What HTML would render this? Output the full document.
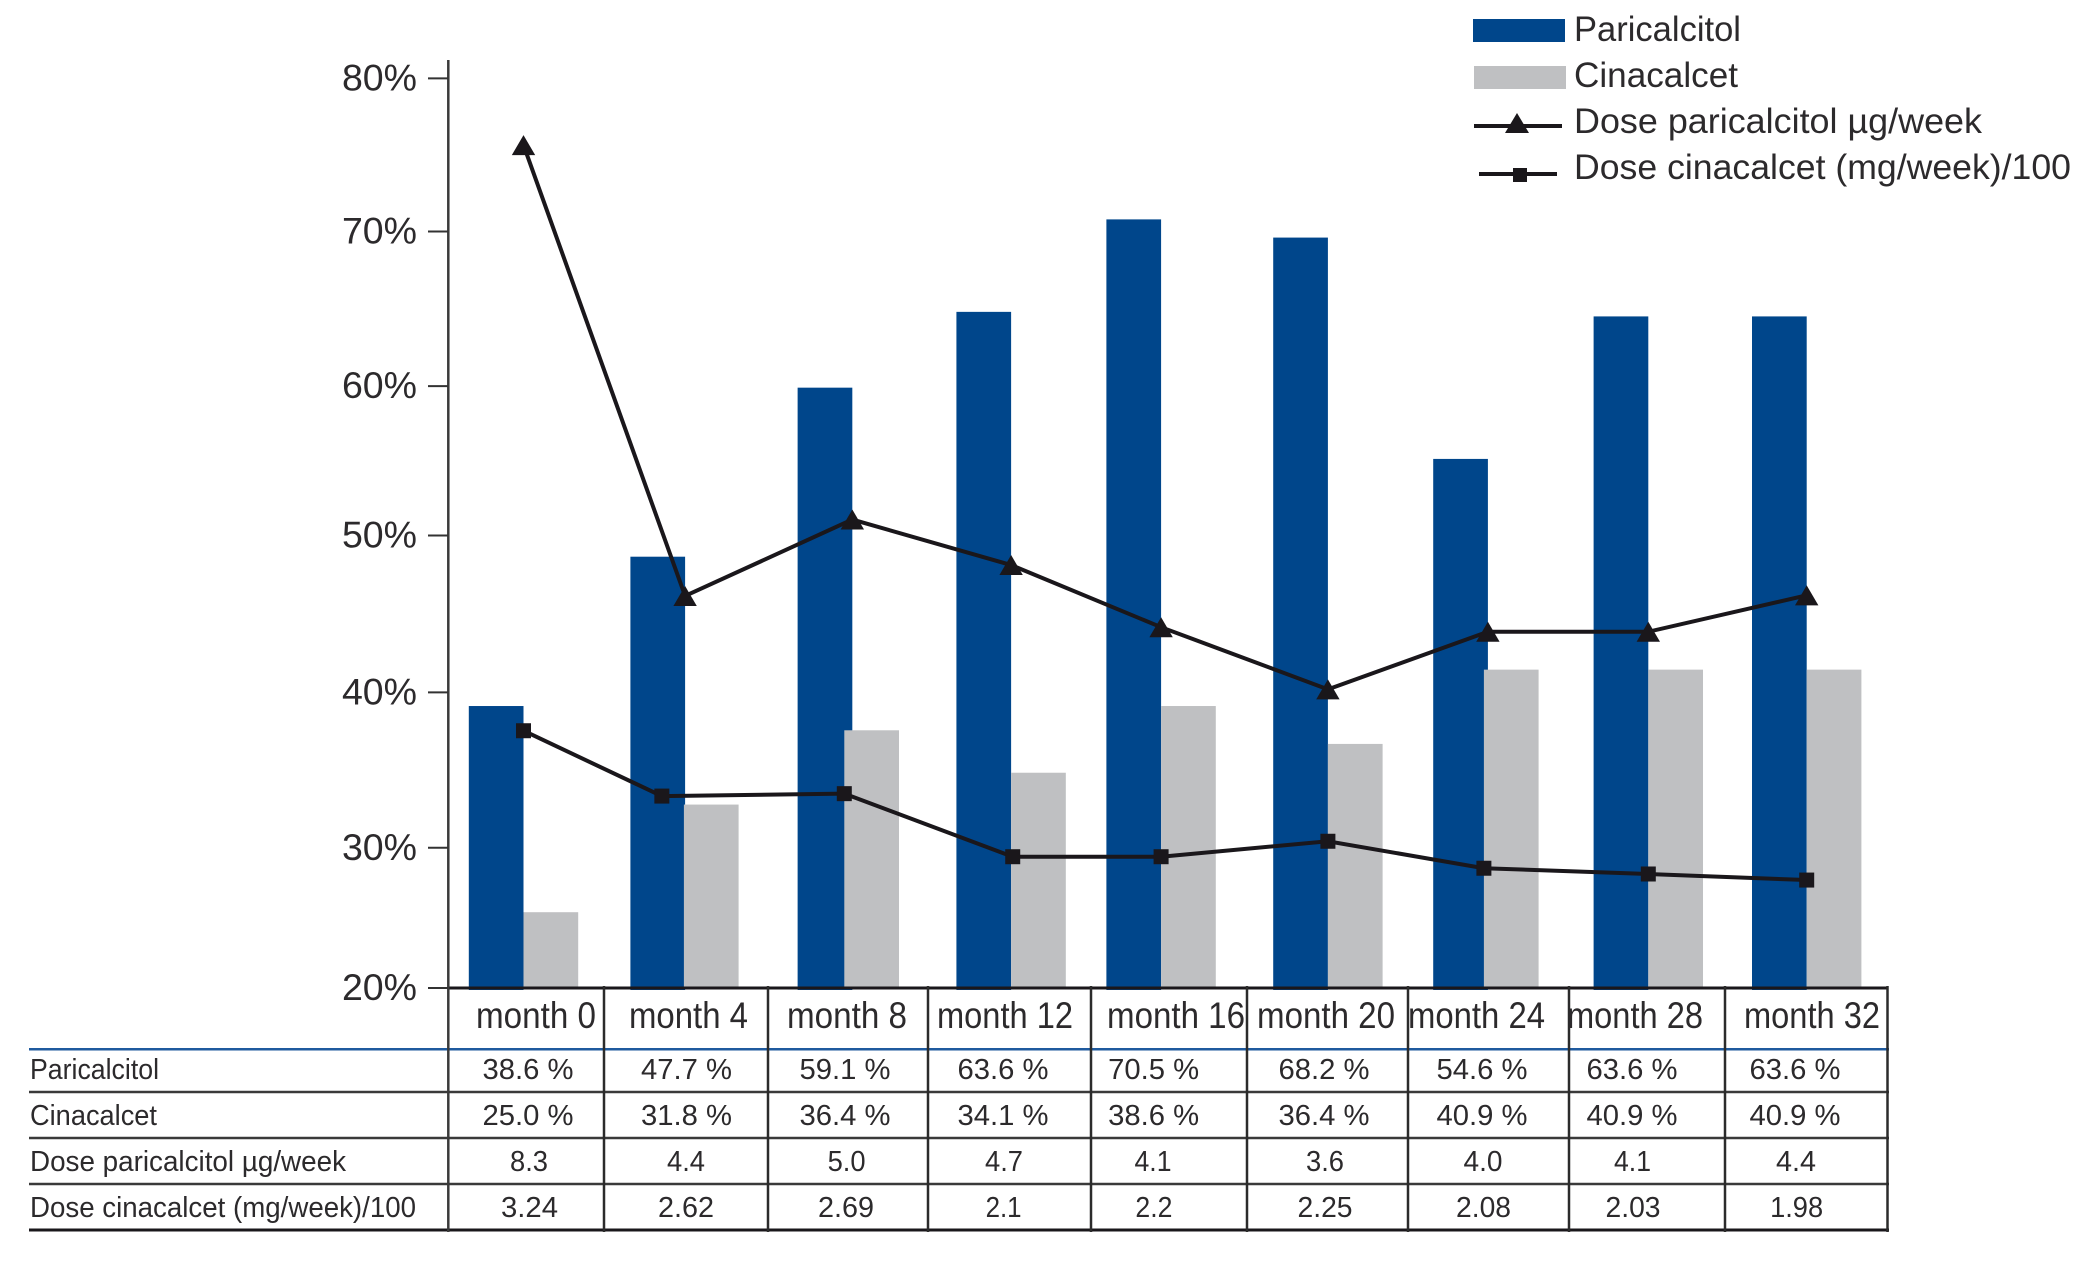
<!DOCTYPE html>
<html lang="en">
<head>
<meta charset="utf-8">
<title>Paricalcitol and cinacalcet use over 32 months</title>
<style>
html,body{margin:0;padding:0;background:#fff;}
svg{display:block;}
text{font-family:"Liberation Sans",sans-serif;fill:#2c2a2c;}
.legend{font-size:35.5px;}
.month{font-size:37px;}
.cell{font-size:29px;text-anchor:middle;}
.rowlabel{font-size:29px;}
.ytick{font-size:37.5px;text-anchor:end;}
.hline{stroke:#3a3a3a;stroke-width:2.5;}
.vline{stroke:#2b2b2b;stroke-width:2.5;}
</style>
</head>
<body>
<svg id="chart" xmlns="http://www.w3.org/2000/svg" width="2098" height="1263" viewBox="0 0 2098 1263">
  <rect x="0" y="0" width="2098" height="1263" fill="#ffffff"/>

  <g id="bars"></g>

  <g>
    <line x1="29" y1="1049.3" x2="1889" y2="1049.3" stroke="#1f5a9e" stroke-width="2.5"/>
    <line class="hline" x1="29" y1="1092" x2="1889" y2="1092"/>
    <line class="hline" x1="29" y1="1138" x2="1889" y2="1138"/>
    <line class="hline" x1="29" y1="1184" x2="1889" y2="1184"/>
    <line x1="29" y1="1230" x2="1889" y2="1230" stroke="#1a171b" stroke-width="3"/>
    <line x1="448" y1="988" x2="1888" y2="988" stroke="#1a171b" stroke-width="3"/>
    <line class="vline" x1="604" y1="986" x2="604" y2="1232"/>
    <line class="vline" x1="768" y1="986" x2="768" y2="1232"/>
    <line class="vline" x1="928" y1="986" x2="928" y2="1232"/>
    <line class="vline" x1="1091" y1="986" x2="1091" y2="1232"/>
    <line class="vline" x1="1247" y1="986" x2="1247" y2="1232"/>
    <line class="vline" x1="1408" y1="986" x2="1408" y2="1232"/>
    <line class="vline" x1="1569" y1="986" x2="1569" y2="1232"/>
    <line class="vline" x1="1725" y1="986" x2="1725" y2="1232"/>
    <line class="vline" x1="1887.5" y1="986" x2="1887.5" y2="1232"/>
    <line x1="448.3" y1="60" x2="448.3" y2="1232" stroke="#3a3a3a" stroke-width="2.5"/>
  </g>

  <g id="y-axis"></g>
  <g id="lines"></g>

  <g>
    <text class="month" x="476" y="1028" textLength="120" lengthAdjust="spacingAndGlyphs">month 0</text>
    <text class="month" x="629" y="1028" textLength="119" lengthAdjust="spacingAndGlyphs">month 4</text>
    <text class="month" x="787" y="1028" textLength="120" lengthAdjust="spacingAndGlyphs">month 8</text>
    <text class="month" x="937" y="1028" textLength="136" lengthAdjust="spacingAndGlyphs">month 12</text>
    <text class="month" x="1107" y="1028" textLength="138" lengthAdjust="spacingAndGlyphs">month 16</text>
    <text class="month" x="1257" y="1028" textLength="138" lengthAdjust="spacingAndGlyphs">month 20</text>
    <text class="month" x="1408" y="1028" textLength="137" lengthAdjust="spacingAndGlyphs">month 24</text>
    <text class="month" x="1567" y="1028" textLength="136" lengthAdjust="spacingAndGlyphs">month 28</text>
    <text class="month" x="1744" y="1028" textLength="136" lengthAdjust="spacingAndGlyphs">month 32</text>
  </g>

  <g>
    <text class="rowlabel" x="30" y="1079" textLength="129" lengthAdjust="spacingAndGlyphs">Paricalcitol</text>
    <text class="rowlabel" x="30" y="1125" textLength="127" lengthAdjust="spacingAndGlyphs">Cinacalcet</text>
    <text class="rowlabel" x="30" y="1171" textLength="316" lengthAdjust="spacingAndGlyphs">Dose paricalcitol µg/week</text>
    <text class="rowlabel" x="30" y="1217" textLength="386" lengthAdjust="spacingAndGlyphs">Dose cinacalcet (mg/week)/100</text>
  </g>

  <g>
    <text class="cell" x="528" y="1079" textLength="91" lengthAdjust="spacingAndGlyphs">38.6 %</text>
    <text class="cell" x="686.5" y="1079" textLength="91" lengthAdjust="spacingAndGlyphs">47.7 %</text>
    <text class="cell" x="845" y="1079" textLength="91" lengthAdjust="spacingAndGlyphs">59.1 %</text>
    <text class="cell" x="1003" y="1079" textLength="91" lengthAdjust="spacingAndGlyphs">63.6 %</text>
    <text class="cell" x="1153.6" y="1079" textLength="91" lengthAdjust="spacingAndGlyphs">70.5 %</text>
    <text class="cell" x="1324" y="1079" textLength="91" lengthAdjust="spacingAndGlyphs">68.2 %</text>
    <text class="cell" x="1482" y="1079" textLength="91" lengthAdjust="spacingAndGlyphs">54.6 %</text>
    <text class="cell" x="1632" y="1079" textLength="91" lengthAdjust="spacingAndGlyphs">63.6 %</text>
    <text class="cell" x="1795" y="1079" textLength="91" lengthAdjust="spacingAndGlyphs">63.6 %</text>
  </g>
  <g>
    <text class="cell" x="528" y="1125" textLength="91" lengthAdjust="spacingAndGlyphs">25.0 %</text>
    <text class="cell" x="686.5" y="1125" textLength="91" lengthAdjust="spacingAndGlyphs">31.8 %</text>
    <text class="cell" x="845" y="1125" textLength="91" lengthAdjust="spacingAndGlyphs">36.4 %</text>
    <text class="cell" x="1003" y="1125" textLength="91" lengthAdjust="spacingAndGlyphs">34.1 %</text>
    <text class="cell" x="1153.6" y="1125" textLength="91" lengthAdjust="spacingAndGlyphs">38.6 %</text>
    <text class="cell" x="1324" y="1125" textLength="91" lengthAdjust="spacingAndGlyphs">36.4 %</text>
    <text class="cell" x="1482" y="1125" textLength="91" lengthAdjust="spacingAndGlyphs">40.9 %</text>
    <text class="cell" x="1632" y="1125" textLength="91" lengthAdjust="spacingAndGlyphs">40.9 %</text>
    <text class="cell" x="1795" y="1125" textLength="91" lengthAdjust="spacingAndGlyphs">40.9 %</text>
  </g>
  <g>
    <text class="cell" x="529" y="1171" textLength="38" lengthAdjust="spacingAndGlyphs">8.3</text>
    <text class="cell" x="686" y="1171" textLength="38" lengthAdjust="spacingAndGlyphs">4.4</text>
    <text class="cell" x="846.6" y="1171" textLength="38" lengthAdjust="spacingAndGlyphs">5.0</text>
    <text class="cell" x="1004" y="1171" textLength="38" lengthAdjust="spacingAndGlyphs">4.7</text>
    <text class="cell" x="1153" y="1171" textLength="37" lengthAdjust="spacingAndGlyphs">4.1</text>
    <text class="cell" x="1325" y="1171" textLength="38" lengthAdjust="spacingAndGlyphs">3.6</text>
    <text class="cell" x="1483" y="1171" textLength="39" lengthAdjust="spacingAndGlyphs">4.0</text>
    <text class="cell" x="1632.5" y="1171" textLength="37" lengthAdjust="spacingAndGlyphs">4.1</text>
    <text class="cell" x="1796" y="1171" textLength="40" lengthAdjust="spacingAndGlyphs">4.4</text>
  </g>
  <g>
    <text class="cell" x="529.5" y="1217" textLength="57" lengthAdjust="spacingAndGlyphs">3.24</text>
    <text class="cell" x="686" y="1217" textLength="56" lengthAdjust="spacingAndGlyphs">2.62</text>
    <text class="cell" x="846" y="1217" textLength="56" lengthAdjust="spacingAndGlyphs">2.69</text>
    <text class="cell" x="1003.6" y="1217" textLength="36" lengthAdjust="spacingAndGlyphs">2.1</text>
    <text class="cell" x="1153.9" y="1217" textLength="37" lengthAdjust="spacingAndGlyphs">2.2</text>
    <text class="cell" x="1325" y="1217" textLength="55" lengthAdjust="spacingAndGlyphs">2.25</text>
    <text class="cell" x="1483.5" y="1217" textLength="55" lengthAdjust="spacingAndGlyphs">2.08</text>
    <text class="cell" x="1633" y="1217" textLength="55" lengthAdjust="spacingAndGlyphs">2.03</text>
    <text class="cell" x="1796.6" y="1217" textLength="53" lengthAdjust="spacingAndGlyphs">1.98</text>
  </g>

  <g>
    <g>
      <rect x="1473" y="19" width="92" height="23" fill="#00468b"/>
      <text class="legend" x="1574" y="41" textLength="167" lengthAdjust="spacingAndGlyphs">Paricalcitol</text>
    </g>
    <g>
      <rect x="1474" y="66" width="92" height="23" fill="#bfc0c2"/>
      <text class="legend" x="1574" y="87" textLength="164" lengthAdjust="spacingAndGlyphs">Cinacalcet</text>
    </g>
    <g>
      <line x1="1474" y1="126" x2="1562" y2="126" stroke="#1a171b" stroke-width="4"/>
      <polygon points="1517,113 1529,133 1505,133" fill="#1a171b"/>
      <text class="legend" x="1574" y="133" textLength="408" lengthAdjust="spacingAndGlyphs">Dose paricalcitol µg/week</text>
    </g>
    <g>
      <line x1="1479" y1="174" x2="1557" y2="174" stroke="#1a171b" stroke-width="4"/>
      <rect x="1513" y="168" width="14" height="14" fill="#1a171b"/>
      <text class="legend" x="1574" y="179" textLength="497" lengthAdjust="spacingAndGlyphs">Dose cinacalcet (mg/week)/100</text>
    </g>
  </g>
</svg>

<script>
// Chart data (heights in % axis units, positions in months).
const categories = ['month 0','month 4','month 8','month 12','month 16','month 20','month 24','month 28','month 32'];
const paricalcitolValues = [38.6, 48.45, 59.6, 64.6, 70.7, 69.5, 54.9, 64.3, 64.3];
const cinacalcetValues = [25.0, 32.1, 37.0, 34.2, 38.6, 36.1, 41.0, 41.0, 41.0];
const doseParicalcitolValues = [75.6, 45.86, 50.9, 47.9, 43.8, 39.7, 43.5, 43.5, 45.9];
const doseCinacalcetValues = [36.97, 32.66, 32.82, 28.66, 28.66, 29.68, 27.9, 27.52, 27.12];
const paricalcitolMonths = [0, 4.03, 8.2, 12.16, 15.9, 20.06, 24.05, 28.05, 32];
const cinacalcetMonths = [0, 4, 8, 12.16, 15.9, 20.06, 23.95, 28.05, 32];
const doseCinacalcetMonths = [0, 3.45, 8, 12.2, 15.9, 20.06, 23.95, 28.05, 32];
const tickValues = [80, 69.9, 59.7, 49.85, 39.5, 29.25, 20];
const tickLabels = ['80%','70%','60%','50%','40%','30%','20%'];

// Axis functions
const xOrigin = 523.5, xPerMonth = 40.1;
const yBase = 988, yPerPercent = 15.16, yFloor = 20;
function xAxis(month){ return xOrigin + month * xPerMonth; }
function yAxis(value){ return yBase - (value - yFloor) * yPerPercent; }

const SVG_NS = 'http://www.w3.org/2000/svg';
const barWidth = 54.7;
const barsGroup = document.getElementById('bars');
const linesGroup = document.getElementById('lines');
const yAxisGroup = document.getElementById('y-axis');

tickValues.forEach(function(value, i){
  const tick = document.createElementNS(SVG_NS, 'line');
  
  
  tick.setAttribute('x1', 428);
  tick.setAttribute('x2', 448);
  tick.setAttribute('y1', yAxis(value));
  tick.setAttribute('y2', yAxis(value));
  tick.setAttribute('stroke', '#333333');
  tick.setAttribute('stroke-width', 2);
  yAxisGroup.appendChild(tick);
  const label = document.createElementNS(SVG_NS, 'text');
  
  
  label.setAttribute('class', 'ytick');
  label.setAttribute('x', 417);
  label.setAttribute('y', yAxis(value) + 12);
  label.textContent = tickLabels[i];
  yAxisGroup.appendChild(label);
});

categories.forEach(function(cat, i){
  const top = yAxis(paricalcitolValues[i]);
  const bar = document.createElementNS(SVG_NS, 'rect');
  
  
  bar.setAttribute('x', xAxis(paricalcitolMonths[i]) - barWidth);
  bar.setAttribute('y', top);
  bar.setAttribute('width', barWidth);
  bar.setAttribute('height', yBase + 2 - top);
  bar.setAttribute('fill', '#00468b');
  barsGroup.appendChild(bar);
});
categories.forEach(function(cat, i){
  const top = yAxis(cinacalcetValues[i]);
  const bar = document.createElementNS(SVG_NS, 'rect');
  
  
  bar.setAttribute('x', xAxis(cinacalcetMonths[i]));
  bar.setAttribute('y', top);
  bar.setAttribute('width', barWidth);
  bar.setAttribute('height', yBase + 1 - top);
  bar.setAttribute('fill', '#bfc0c2');
  barsGroup.appendChild(bar);
});

const parLine = document.createElementNS(SVG_NS, 'polyline');


parLine.setAttribute('fill', 'none');
parLine.setAttribute('stroke', '#1a171b');
parLine.setAttribute('stroke-width', 4);
parLine.setAttribute('points', doseParicalcitolValues.map(function(v, i){
  return xAxis(paricalcitolMonths[i]) + ',' + yAxis(v);
}).join(' '));
linesGroup.appendChild(parLine);

const cinLine = document.createElementNS(SVG_NS, 'polyline');


cinLine.setAttribute('fill', 'none');
cinLine.setAttribute('stroke', '#1a171b');
cinLine.setAttribute('stroke-width', 4);
cinLine.setAttribute('points', doseCinacalcetValues.map(function(v, i){
  return xAxis(doseCinacalcetMonths[i]) + ',' + yAxis(v);
}).join(' '));
linesGroup.appendChild(cinLine);

doseParicalcitolValues.forEach(function(v, i){
  const cx = xAxis(paricalcitolMonths[i]), cy = yAxis(v);
  const marker = document.createElementNS(SVG_NS, 'polygon');
  
  
  marker.setAttribute('points', cx + ',' + (cy - 10) + ' ' + (cx + 11.7) + ',' + (cy + 10) + ' ' + (cx - 11.7) + ',' + (cy + 10));
  marker.setAttribute('fill', '#1a171b');
  linesGroup.appendChild(marker);
});

doseCinacalcetValues.forEach(function(v, i){
  const cx = xAxis(doseCinacalcetMonths[i]), cy = yAxis(v);
  const marker = document.createElementNS(SVG_NS, 'rect');
  
  
  marker.setAttribute('x', cx - 7.5);
  marker.setAttribute('y', cy - 7.5);
  marker.setAttribute('width', 15);
  marker.setAttribute('height', 15);
  marker.setAttribute('fill', '#1a171b');
  linesGroup.appendChild(marker);
});
</script>
</body>
</html>
